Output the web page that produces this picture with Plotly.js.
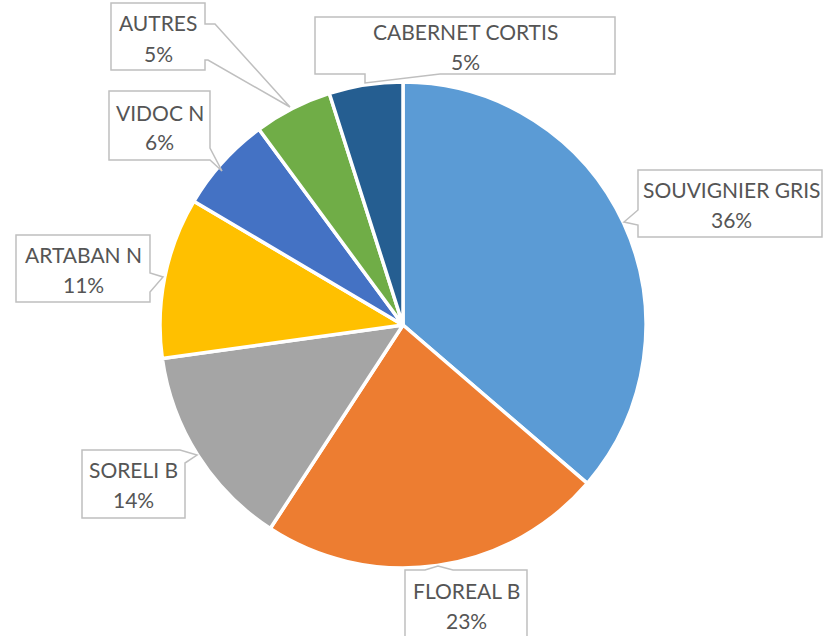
<!DOCTYPE html>
<html>
<head>
<meta charset="utf-8">
<script src="https://cdn.plot.ly/plotly-3.0.1.min.js"></script>
<style>html,body{margin:0;padding:0;background:#fff;}#chart{width:823px;height:636px;}</style>
</head>
<body>
<div id="chart"></div>
<script>
// ---- data ----
var labels = ["SOUVIGNIER GRIS", "FLOREAL B", "SORELI B", "ARTABAN N", "VIDOC N", "AUTRES", "CABERNET CORTIS"];
var values = [36.3, 22.9, 13.6, 10.7, 6.4, 5.2, 4.9];
var colors = ["#5B9BD5", "#ED7D31", "#A5A5A5", "#FFC000", "#4472C4", "#70AD47", "#255E91"];

// ---- layout helpers (pixel -> paper) ----
var W = 823, H = 636;
function px(x) { return x / W; }
function py(y) { return 1 - y / H; }
function pathOf(pts) {
  return pts.map(function (p, i) { return (i ? "L" : "M") + px(p[0]).toFixed(5) + "," + py(p[1]).toFixed(5); }).join(" ") + " Z";
}

// callout outlines (box + pointer), and text centre / line positions, in pixels
var callouts = {
  "SOUVIGNIER GRIS": { pts: [[638,170],[822,170],[822,237],[638,237],[638,225],[624,222],[638,210]], cx: 731, y1: 189.5, y2: 219.5 },
  "FLOREAL B": { pts: [[405,570],[425,570],[438,566],[453,570],[527,570],[527,640],[405,640]], cx: 466, y1: 590.5, y2: 620 },
  "SORELI B": { pts: [[82,450],[180,450],[197,455],[185,463],[185,518],[82,518]], cx: 133.5, y1: 469.5, y2: 499.5 },
  "ARTABAN N": { pts: [[16,235],[150,235],[150,273],[163,277],[150,292],[150,302],[16,302]], cx: 83, y1: 254.5, y2: 284.5 },
  "VIDOC N": { pts: [[109,91],[210,91],[210,148],[222,171],[210,160],[109,160]], cx: 159.5, y1: 112.5, y2: 141 },
  "AUTRES": { pts: [[111,3],[205,3],[205,24],[215,24],[290,107],[208,60],[205,60],[205,70],[111,70]], cx: 158, y1: 22.5, y2: 53.5 },
  "CABERNET CORTIS": { pts: [[315,17],[615,17],[615,74],[440,74],[365,83],[365,74],[315,74]], cx: 465, y1: 31.5, y2: 61 }
};

var total = values.reduce(function (a, b) { return a + b; }, 0);
var shapes = [], annotations = [];
var font = { family: "Lato, 'Open Sans', sans-serif", size: 21, color: "#555555" };
labels.forEach(function (lab, i) {
  var c = callouts[lab];
  shapes.push({ type: "path", xref: "paper", yref: "paper", path: pathOf(c.pts),
    line: { color: "#BFBFBF", width: 1.5 }, fillcolor: "rgba(255,255,255,1)", layer: "above" });
  var pct = Math.round(values[i] / total * 100) + "%";
  annotations.push({ xref: "paper", yref: "paper", x: px(c.cx), y: py(c.y1), text: lab, showarrow: false,
    xanchor: "center", yanchor: "middle", font: font });
  annotations.push({ xref: "paper", yref: "paper", x: px(c.cx), y: py(c.y2), text: pct, showarrow: false,
    xanchor: "center", yanchor: "middle", font: font });
});

var trace = {
  type: "pie",
  labels: labels,
  values: values,
  sort: false,
  direction: "clockwise",
  rotation: 0,
  textinfo: "none",
  hoverinfo: "label+percent",
  marker: { colors: colors, line: { color: "#FFFFFF", width: 3.5 } },
  domain: { x: [px(160), px(646)], y: [py(568), py(82)] },
  showlegend: false
};

var layout = {
  width: W, height: H,
  margin: { l: 0, r: 0, t: 0, b: 0, pad: 0 },
  paper_bgcolor: "#FFFFFF",
  plot_bgcolor: "#FFFFFF",
  showlegend: false,
  shapes: shapes,
  annotations: annotations
};

Plotly.newPlot("chart", [trace], layout, { displayModeBar: false, staticPlot: true });
</script>
</body>
</html>
